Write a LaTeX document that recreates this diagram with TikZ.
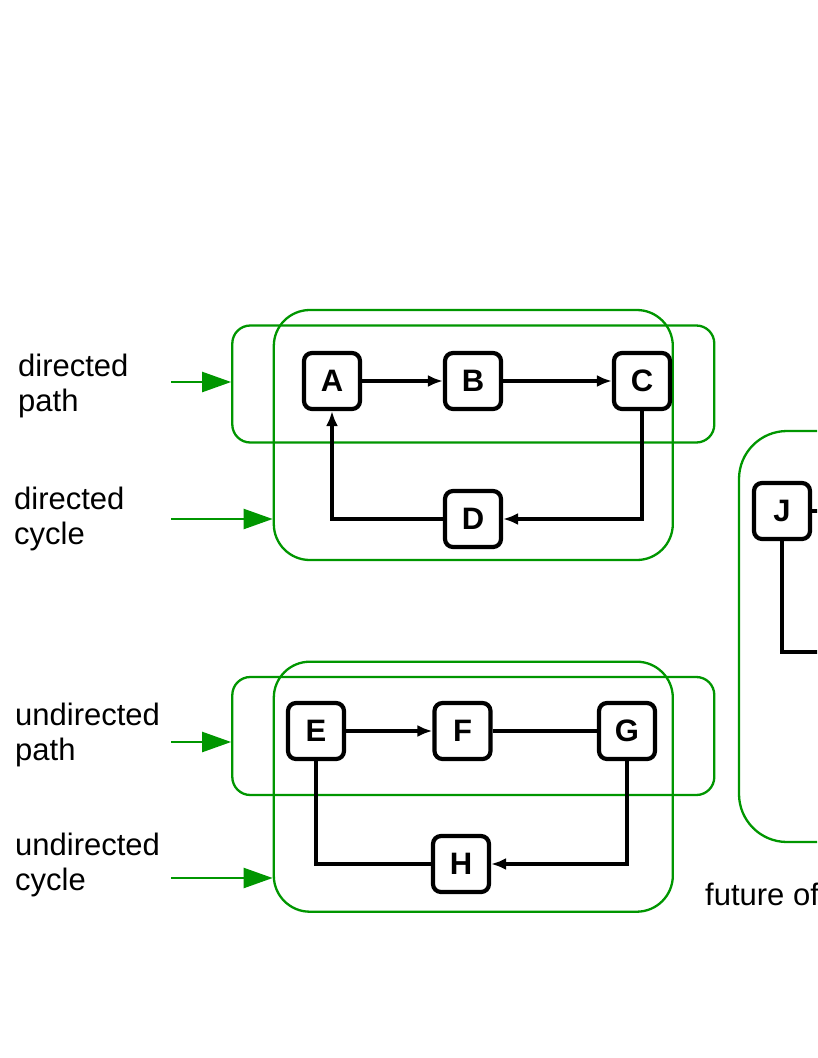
\documentclass[tikz,border=0pt]{standalone}
\usepackage{fontspec}
\setmainfont{Liberation Sans}
\usetikzlibrary{arrows.meta}
\definecolor{grp}{RGB}{0,150,0}
\begin{document}
\begin{tikzpicture}[x=1pt,y=-1pt,
  vbox/.style={draw=black, line width=4.2pt, rounded corners=8pt, minimum size=56pt, inner sep=0pt,
    font=\fontsize{31}{36}\selectfont\bfseries, fill=white},
  conn/.style={line width=3.5pt, draw=black},
  arr/.style={conn, -{Latex[length=15pt,width=12pt]}},
  gbox/.style={draw=grp, line width=2.3pt, inner sep=0pt},
  garr/.style={draw=grp, line width=2.3pt, -{Triangle[length=29pt,width=20pt]}, color=grp},
  lbl/.style={anchor=base west, align=left, inner sep=0pt, font=\fontsize{31}{35}\selectfont}
]
\useasboundingbox (0,0) rectangle (817,1058);
\clip (0,0) rectangle (817,1058);
\fill[white] (0,0) rectangle (817,1058);

% ---------- green group boxes ----------
\node[gbox, rounded corners=18pt, minimum width=482pt, minimum height=117pt] (dpath) at (473.3,384) {};
\node[gbox, rounded corners=36pt, minimum width=399pt, minimum height=250pt] (dcyc) at (473.3,435) {};
\node[gbox, rounded corners=18pt, minimum width=482pt, minimum height=118pt] (upath) at (473.3,736) {};
\node[gbox, rounded corners=36pt, minimum width=399pt, minimum height=250pt] (ucyc) at (473.3,786.7) {};
\node[gbox, rounded corners=48pt, minimum width=460pt, minimum height=411pt] (fut) at (969,636.5) {};

% ---------- labels (base = last line) ----------
\node[lbl] (l1) at (18,411) {directed\\path};
\node[lbl] (l2) at (14,544) {directed\\cycle};
\node[lbl] (l3) at (15,760) {undirected\\path};
\node[lbl] (l4) at (15,890) {undirected\\cycle};
\node[anchor=base west, inner sep=0pt, font=\fontsize{31}{35}\selectfont] (futl) at (705,905) {future of};

% ---------- green arrows ----------
\coordinate (t1) at (171,382);
\coordinate (t2) at (171,519);
\coordinate (t3) at (171,742);
\coordinate (t4) at (171,878);
\draw[garr] (t1) -- (t1 -| dpath.west);
\draw[garr] (t2) -- (t2 -| dcyc.west);
\draw[garr] (t3) -- (t3 -| upath.west);
\draw[garr] (t4) -- (t4 -| ucyc.west);

% ---------- directed graph ----------
\node[vbox] (A) at (332,381) {A};
\node[vbox] (B) at (473,381) {B};
\node[vbox] (C) at (642,381) {C};
\node[vbox] (D) at (473,519) {D};
\draw[arr] (A) -- (B);
\draw[arr] (B) -- (C);
\draw[arr] (C.south) |- (D.east);
\draw[arr] (D.west) -| (A.south);

% ---------- undirected graph ----------
\node[vbox] (E) at (316,731) {E};
\node[vbox] (F) at (462.5,731) {F};
\node[vbox] (G) at (627,731) {G};
\node[vbox] (H) at (461,864) {H};
\draw[arr] (E) -- (F);
\draw[conn] (F) -- (G);
\draw[arr] (G.south) |- (H.east);
\draw[conn] (E.south) |- (H.west);

% ---------- right part (cut off) ----------
\node[vbox] (J) at (782,511) {J};
\coordinate (jr) at (900,511);
\coordinate (jd) at (900,652);
\draw[conn] (J.east) -- (jr);
\draw[conn] (J.south) |- (jd);
\end{tikzpicture}
\end{document}
